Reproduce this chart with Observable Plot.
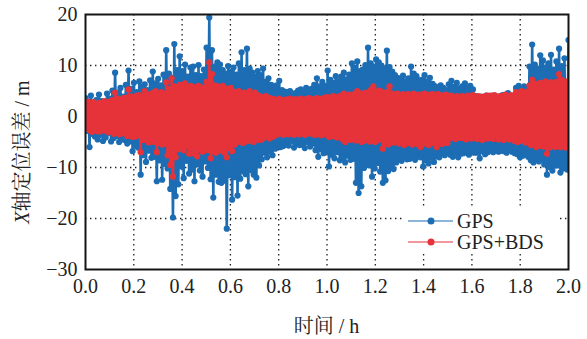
<!DOCTYPE html>
<html><head><meta charset="utf-8">
<script src="https://cdn.jsdelivr.net/npm/d3@7"></script>
<script src="https://cdn.jsdelivr.net/npm/@observablehq/plot@0.6"></script>
<style>
body{margin:0;background:#fff}
#chart{width:587px;height:339px}
#chart svg text, #chart svg tspan{font-family:"Liberation Serif","Noto Serif CJK SC",serif !important}
</style>
</head><body><div id="chart"></div>
<script>
// ---- data ----
const hourRange = [0, 2];
const xTicks = [0, 0.2, 0.4, 0.6, 0.8, 1.0, 1.2, 1.4, 1.6, 1.8, 2.0];
const xTickLabels = ["0.0","0.2","0.4","0.6","0.8","1.0","1.2","1.4","1.6","1.8","2.0"];
const yTicks = [-30, -20, -10, 0, 10, 20];
const yTickLabels = ["\u221230","\u221220","\u221210","0","10","20"];
const seriesNames = ["GPS", "GPS+BDS"];

// X-axis positioning error (m), GPS only, one value per epoch
const gps = [
3.6,-2.8,2.9,-6.0,4.1,-3.4,2.5,-3.9,3.2,-4.5,
4.3,-3.6,3.0,-4.8,2.7,-4.1,4.5,-3.2,3.5,-4.9,
5.1,-4.2,8.6,-3.8,4.7,-5.0,5.6,-4.4,3.9,-4.6,
6.2,-5.3,9.0,-4.9,5.4,-6.8,6.6,-5.7,4.8,-6.1,
6.9,-11.4,5.8,-7.6,6.3,-8.9,5.2,-6.7,7.1,-8.1,
8.8,-7.9,6.5,-12.7,7.4,-8.6,6.1,-12.4,8.2,-9.3,
13.0,-10.2,8.4,-14.2,7.6,-19.8,14.2,-15.6,9.1,-13.3,
11.8,-9.8,8.9,-12.1,10.2,-8.7,7.8,-11.2,9.6,-10.4,
9.8,-12.7,8.1,-9.4,10.1,-10.6,7.9,-11.8,9.2,-8.8,
13.5,-10.1,19.4,-12.3,13.0,-15.9,9.8,-11.4,10.6,-12.8,
10.2,-13.0,9.1,-12.6,8.4,-22.0,9.9,-11.5,8.7,-16.3,
9.6,-11.9,8.2,-15.5,10.4,-12.2,12.6,-10.7,9.1,-11.3,
13.3,-13.7,9.4,-10.5,8.6,-11.4,7.8,-12.0,8.9,-9.6,
8.1,-8.4,9.4,-7.1,6.8,-8.0,7.5,-6.9,6.2,-7.6,
5.6,-6.3,6.1,-5.4,7.0,-6.0,5.2,-5.8,4.9,-5.5,
4.8,-5.7,5.0,-4.9,4.4,-6.1,4.6,-5.2,5.1,-5.6,
5.3,-5.5,4.7,-6.2,5.6,-5.0,4.9,-5.9,5.4,-5.3,
6.2,-6.6,7.5,-7.9,5.9,-6.4,6.8,-7.2,6.0,-6.9,
9.0,-9.8,7.2,-7.5,6.6,-8.2,7.9,-7.0,6.9,-8.6,
7.8,-8.1,8.6,-9.0,7.3,-7.7,8.2,-8.5,10.4,-8.3,
9.5,-13.0,10.8,-15.0,8.9,-13.7,9.2,-10.1,10.1,-9.4,
13.5,-9.6,10.4,-11.8,9.8,-10.2,11.2,-9.1,10.6,-10.8,
10.0,-13.0,9.4,-12.5,12.9,-10.7,9.7,-9.8,8.8,-10.3,
8.1,-9.0,7.6,-8.2,7.2,-8.7,8.0,-7.9,6.9,-8.4,
7.5,-8.3,9.8,-7.6,8.4,-8.5,7.9,-7.8,7.1,-8.0,
7.2,-9.8,8.1,-8.6,6.9,-9.2,7.6,-8.1,6.4,-8.9,
5.9,-7.8,5.4,-8.0,6.1,-7.2,5.6,-7.6,5.2,-7.0,
6.3,-7.5,7.0,-7.9,5.8,-7.1,6.6,-8.0,5.5,-7.3,
5.9,-7.2,6.5,-6.8,5.6,-7.5,6.0,-6.9,5.3,-7.1,
4.0,-7.1,3.7,-8.2,3.9,-6.8,3.5,-7.4,4.1,-7.0,
3.8,-6.6,4.1,-7.0,3.6,-6.4,3.9,-6.9,3.4,-6.7,
4.2,-6.8,3.9,-7.1,4.6,-6.5,4.0,-6.9,3.8,-7.2,
5.6,-7.4,6.0,-8.0,5.2,-7.7,5.9,-7.2,5.4,-7.9,
9.8,-8.6,14.1,-9.0,10.2,-8.2,9.4,-8.8,12.0,-8.4,
11.0,-9.4,9.6,-11.4,10.4,-9.9,12.1,-10.6,9.2,-9.6,
10.8,-9.6,13.3,-11.0,9.9,-10.2,11.4,-9.7,-10.4,15.0
];

// X-axis positioning error (m), GPS+BDS, one value per epoch
const gpsBds = [
2.6,-2.4,2.9,-2.7,2.3,-3.0,2.8,-2.5,2.4,-2.9,
2.7,-2.9,2.5,-2.6,3.0,-2.8,2.6,-3.1,2.9,-2.7,
3.2,-3.4,4.7,-3.0,3.5,-3.5,3.1,-3.3,3.6,-3.2,
3.7,-3.8,5.3,-3.6,3.9,-4.0,3.6,-3.9,4.1,-3.7,
4.2,-7.0,3.9,-4.6,5.0,-4.3,4.0,-5.1,4.4,-4.8,
4.6,-5.0,5.0,-7.0,4.3,-5.2,4.8,-5.5,4.5,-5.3,
6.7,-7.6,5.4,-9.5,7.5,-11.8,5.9,-8.0,5.6,-6.4,
6.2,-6.0,5.8,-6.6,6.5,-5.7,5.5,-7.3,6.0,-6.2,
5.8,-7.3,5.5,-7.8,6.0,-6.5,5.4,-6.9,5.7,-6.3,
6.8,-6.6,10.6,-8.2,8.3,-6.9,6.1,-7.1,5.9,-6.7,
5.7,-6.5,6.0,-7.0,5.5,-8.0,5.3,-6.2,5.6,-6.8,
4.9,-5.5,4.6,-5.0,5.0,-4.8,4.5,-5.2,4.7,-4.9,
4.6,-4.8,5.0,-4.5,4.3,-5.0,4.7,-4.4,4.2,-4.6,
3.9,-4.5,3.6,-4.1,4.0,-3.8,3.7,-4.3,3.5,-4.0,
3.4,-3.7,3.2,-3.5,3.5,-3.3,3.1,-3.6,3.3,-3.4,
3.3,-3.5,3.5,-3.2,3.1,-3.6,3.4,-3.3,3.2,-3.5,
3.5,-3.3,3.2,-3.6,3.4,-3.4,3.6,-3.2,3.3,-3.5,
3.4,-3.6,3.6,-3.4,3.3,-3.7,3.5,-3.5,3.7,-3.3,
3.8,-4.0,3.6,-3.7,4.0,-3.9,3.7,-4.1,3.9,-3.8,
4.1,-4.4,4.5,-5.0,4.0,-4.3,4.3,-4.6,4.2,-4.1,
4.4,-4.7,5.0,-4.5,4.6,-5.0,4.3,-4.8,4.7,-4.4,
4.6,-4.9,5.2,-4.6,5.9,-5.0,4.8,-4.7,5.1,-4.5,
4.9,-6.3,4.6,-5.2,4.8,-5.5,5.9,-4.9,4.5,-5.1,
4.3,-5.0,4.5,-5.3,4.1,-4.9,4.4,-5.6,4.2,-5.1,
4.4,-5.2,4.2,-5.5,4.5,-5.0,4.1,-5.4,4.3,-6.0,
4.2,-5.3,4.5,-5.0,4.0,-5.6,4.3,-5.2,4.4,-5.1,
4.1,-6.0,4.4,-5.1,4.2,-5.4,4.0,-5.0,4.3,-5.2,
3.9,-4.3,4.1,-4.0,3.8,-4.4,4.0,-4.1,3.7,-4.2,
4.0,-4.2,3.8,-4.5,4.1,-4.0,3.9,-4.3,4.2,-4.1,
3.8,-4.4,4.0,-4.1,3.7,-4.6,3.9,-4.2,4.1,-4.3,
4.1,-4.2,3.9,-4.4,4.2,-4.0,3.8,-4.5,4.0,-4.3,
4.0,-4.6,4.3,-4.2,3.9,-4.5,4.2,-4.4,4.1,-4.8,
4.8,-5.0,4.5,-4.8,5.0,-4.6,4.7,-5.1,4.9,-4.7,
6.1,-5.6,7.2,-5.3,6.4,-6.0,5.9,-5.5,6.6,-5.8,
6.5,-5.9,6.9,-7.3,6.2,-6.1,6.7,-5.7,6.4,-6.0,
6.8,-5.8,8.3,-6.0,7.2,-5.6,6.6,-6.1,6.9,-5.7
];

// ---- styles ----
const BLUE = "#1c6db3";
const RED = "#e6333a";

// epochs sampled uniformly over the 2 h session
const epochStep = (hourRange[1] - hourRange[0]) / (gps.length - 1);
const toRows = (vals) => vals.map((v, i) => ({t: hourRange[0] + i * epochStep, v}));
const gpsRows = toRows(gps);
const bdsRows = toRows(gpsBds);

const gridStyle = {stroke: "#111", strokeOpacity: 0.95, strokeWidth: 1.3, strokeDasharray: "1.4 3.6"};

const chart = Plot.plot({
  width: 587,
  height: 339,
  marginLeft: 85,
  marginRight: 19,
  marginTop: 14,
  marginBottom: 70,
  style: {fontSize: "20px", background: "#fff", color: "#222"},
  x: {domain: hourRange},
  y: {domain: [yTicks[0], yTicks[yTicks.length - 1]]},
  marks: [
    Plot.gridX(xTicks.slice(1, -1), gridStyle),
    Plot.gridY(yTicks.slice(1, -1), gridStyle),
    Plot.line(gpsRows, {x: "t", y: "v", stroke: BLUE, strokeWidth: 2.6, strokeLinejoin: "round", clip: true}),
    Plot.dot(gpsRows, {x: "t", y: "v", r: 3.1, fill: BLUE, stroke: "none", clip: true}),
    Plot.line(bdsRows, {x: "t", y: "v", stroke: RED, strokeWidth: 2.6, strokeLinejoin: "round", clip: true}),
    Plot.dot(bdsRows, {x: "t", y: "v", r: 3.1, fill: RED, stroke: "none", clip: true}),
    Plot.frame({stroke: "#151515", strokeWidth: 2}),
    Plot.axisX(xTicks, {tickSize: 0, tickPadding: 9, fontSize: 20, label: null,
      tickFormat: d => xTickLabels[xTicks.indexOf(d)]}),
    Plot.axisY(yTicks, {tickSize: 0, tickPadding: 8, fontSize: 20, label: null,
      tickFormat: d => yTickLabels[yTicks.indexOf(d)]})
  ]
});

document.getElementById("chart").appendChild(chart);

// ---- axis titles and legend ----
const svg = d3.select(chart);
const W = 587, mL = 85, mR = 19;

svg.append("text")
  .attr("x", (mL + W - mR) / 2).attr("y", 333)
  .attr("text-anchor", "middle")
  .attr("font-size", 20).attr("fill", "#222")
  .text("时间 / h");

const yl = svg.append("text")
  .attr("transform", `translate(22,152) rotate(-90)`)
  .attr("text-anchor", "middle").attr("dominant-baseline", "central")
  .attr("font-size", 20).attr("fill", "#222");
yl.append("tspan").attr("font-style", "italic").text("X");
yl.append("tspan").text("轴定位误差 / m");

const lg = svg.append("g");
lg.append("rect").attr("x", 402).attr("y", 208).attr("width", 158).attr("height", 45).attr("fill", "#fff");
const legendItems = [{name: seriesNames[0], color: BLUE, y: 221}, {name: seriesNames[1], color: RED, y: 242}];
for (const it of legendItems) {
  lg.append("line").attr("x1", 408).attr("x2", 453).attr("y1", it.y).attr("y2", it.y)
    .attr("stroke", it.color).attr("stroke-width", 1.2);
  lg.append("circle").attr("cx", 431).attr("cy", it.y).attr("r", 3.5).attr("fill", it.color);
  lg.append("text").attr("x", 457).attr("y", it.y + 7).attr("text-anchor", "start")
    .attr("font-size", 20).attr("fill", "#222").text(it.name);
}
</script>
</body></html>
